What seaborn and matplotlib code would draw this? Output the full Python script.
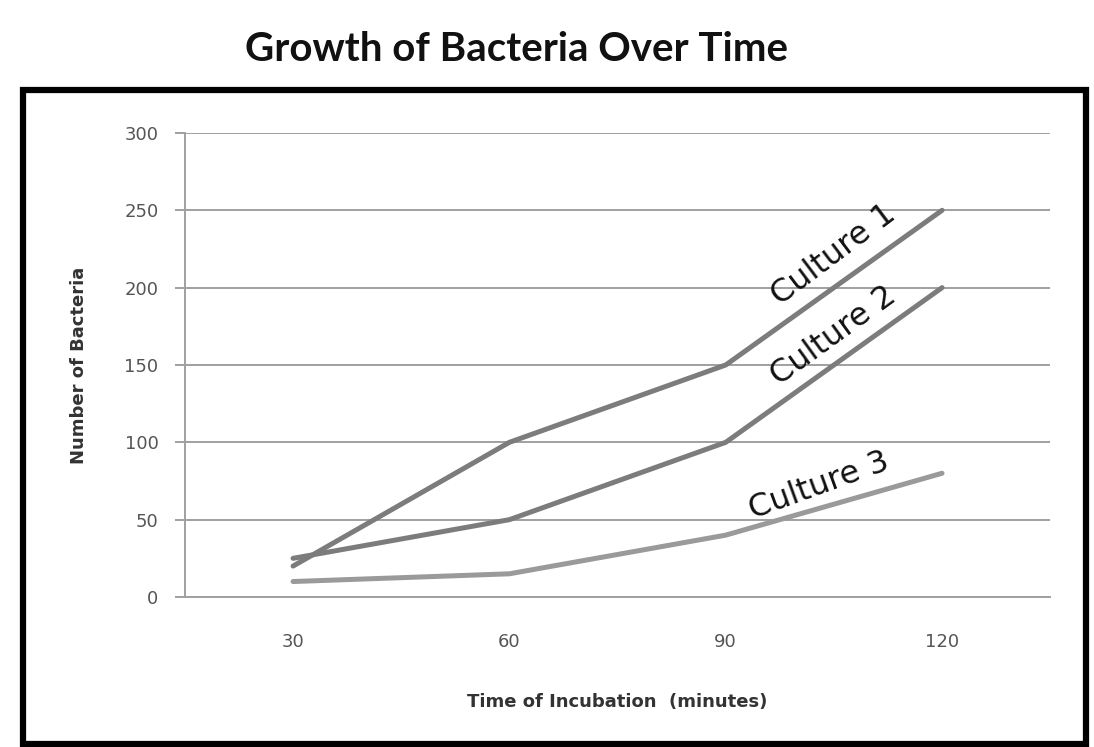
import numpy as np
import pandas as pd
import matplotlib
matplotlib.use('Agg')
import matplotlib.pyplot as plt
import seaborn as sns
from matplotlib.patches import Rectangle

# ---- data ----
times = ['30', '60', '90', '120']
culture1 = [20, 100, 150, 250]
culture2 = [25, 50, 100, 200]
culture3 = [10, 15, 40, 80]
series_names = ['Culture 1', 'Culture 2', 'Culture 3']
y_ticks = [0, 50, 100, 150, 200, 250, 300]

df = pd.DataFrame({
    'time': times * 3,
    'count': culture1 + culture2 + culture3,
    'culture': np.repeat(series_names, len(times)),
})

sns.set_theme(style='white')
plt.rcParams['font.family'] = ['DejaVu Sans']

fig = plt.figure(figsize=(10.94, 7.47), dpi=100)
ax = fig.add_axes([0.169, 0.2008, 0.791, 0.6212])

palette = {'Culture 1': '#7c7c7c', 'Culture 2': '#7c7c7c', 'Culture 3': '#9a9a9a'}
sns.lineplot(data=df, x='time', y='count', hue='culture', palette=palette,
             linewidth=3.6, legend=False, ax=ax, sort=False)

ax.set_xlim(-0.5, 3.5)
ax.set_ylim(0, 300)
ax.set_yticks(y_ticks)
ax.yaxis.grid(True, color='#a0a0a0', linewidth=1.4)
ax.xaxis.grid(False)

for side in ['top', 'right']:
    ax.spines[side].set_visible(False)
for side in ['left', 'bottom']:
    ax.spines[side].set_color('#a0a0a0')
    ax.spines[side].set_linewidth(1.4)

# category ticks: labels in the middle, tick marks at boundaries
ax.set_xticks(range(len(times)))
ax.set_xticklabels(times)
ax.set_xticks(np.arange(-0.5, len(times)), minor=True)
ax.tick_params(axis='x', which='major', length=0, pad=26, labelsize=13, labelcolor='#555555')
ax.tick_params(axis='x', which='minor', length=7, width=1.4, color='#a0a0a0', direction='out')
ax.tick_params(axis='y', which='major', length=7, width=1.4, color='#a0a0a0', direction='out',
               pad=12, labelsize=13, labelcolor='#555555', left=True)

ax.set_xlabel('Time of Incubation  (minutes)', fontsize=13, fontweight='bold', color='#333333', labelpad=30)
ax.set_ylabel('Number of Bacteria', fontsize=13, fontweight='bold', color='#333333', labelpad=26)

# inline series labels
label_pos = [(2.5, 221, 37), (2.5, 169, 36), (2.43, 72, 20)]
for name, (lx, ly, rot) in zip(series_names, label_pos):
    ax.text(lx, ly, name, fontsize=23, color='#111111', rotation=rot,
            rotation_mode='anchor', ha='center', va='center')

# title and outer frame
fig.text(0.472, 0.934, 'Growth of Bacteria Over Time', fontsize=29, fontweight='bold',
         family='Lato', ha='center', va='center', color='#111111')
fig.patches.append(Rectangle((0.021, 0.004), 0.972, 0.876, transform=fig.transFigure,
                             fill=False, edgecolor='black', linewidth=4.5))

fig.savefig('out.png', dpi=100)
